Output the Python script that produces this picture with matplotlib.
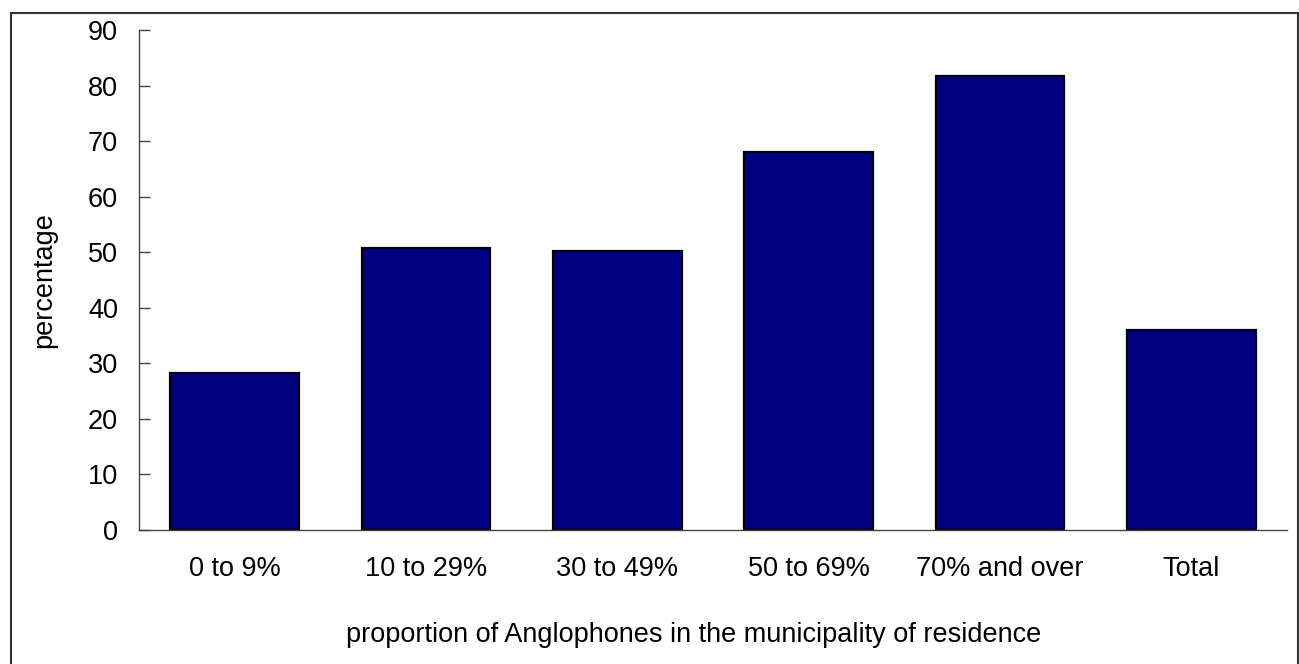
import matplotlib
matplotlib.use('Agg')
import matplotlib.pyplot as plt
from matplotlib.patches import Rectangle

categorias = ['0 to 9%', '10 to 29%', '30 to 49%', '50 to 69%', '70% and over', 'Total']
valores = [28.3, 50.7, 50.2, 68.1, 81.7, 36.0]
yticks = [0, 10, 20, 30, 40, 50, 60, 70, 80, 90]

plt.rcParams['font.family'] = ['Liberation Sans', 'DejaVu Sans']

fig = plt.figure(figsize=(12.99, 6.64), dpi=100)
ax = fig.add_axes([0.107, 0.2023, 0.8837, 0.7525])

x = range(len(categorias))
ax.bar(x, valores, width=0.672, color='#000080', edgecolor='black', linewidth=1.6, zorder=3)

ax.set_xlim(-0.5, len(categorias) - 0.5)
ax.set_ylim(0, 90)
ax.set_yticks(yticks)
ax.set_xticks(list(x))
ax.set_xticklabels(categorias)

ax.tick_params(axis='y', direction='in', length=8, width=1, color='#444444', pad=15, labelsize=19.5)
ax.tick_params(axis='x', length=0, pad=19, labelsize=19.5)

for s in ['top', 'right']:
    ax.spines[s].set_visible(False)
for s in ['left', 'bottom']:
    ax.spines[s].set_color('#444444')
    ax.spines[s].set_linewidth(1)

ax.set_ylabel('percentage', fontsize=19.5, labelpad=22)
ax.set_xlabel('proportion of Anglophones in the municipality of residence', fontsize=19.5,
              labelpad=29, x=0.483)

# marco alrededor de la figura
marco = Rectangle((11 / 1299, -0.05), 1287 / 1299, 1 - 13 / 664 + 0.05, transform=fig.transFigure,
                  fill=False, edgecolor='#333333', linewidth=1.5, clip_on=False)
fig.patches.append(marco)

fig.savefig('out.png', dpi=100)
